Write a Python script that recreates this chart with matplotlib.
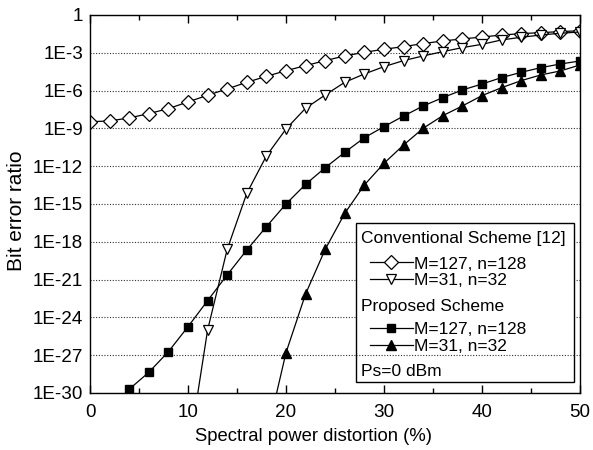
import matplotlib.pyplot as plt
import numpy as np
from matplotlib.lines import Line2D
from matplotlib.patches import Rectangle
from matplotlib.ticker import FixedLocator, MultipleLocator

plt.rcParams['font.family'] = ['Liberation Sans', 'DejaVu Sans']

# log10 of BER
x_all = list(range(0, 51, 2))
conv_127 = [-8.47, -8.41, -8.17, -7.83, -7.43, -6.90, -6.37, -5.87, -5.34, -4.87,
            -4.42, -4.02, -3.62, -3.25, -2.96, -2.72, -2.51, -2.27, -2.06, -1.90,
            -1.75, -1.59, -1.48, -1.40, -1.32, -1.25]

x_conv31 = list(range(10, 51, 2))
conv_31 = [-35.0, -25.0, -18.6, -14.15, -11.19, -9.05, -7.4, -6.35, -5.34, -4.68,
           -4.10, -3.62, -3.25, -2.91, -2.59, -2.33, -1.98, -1.77, -1.59, -1.45, -1.35]

x_prop127 = list(range(4, 51, 2))
prop_127 = [-29.7, -28.36, -26.72, -24.74, -22.67, -20.63, -18.65, -16.80, -15.0,
            -13.44, -12.12, -10.90, -9.74, -8.86, -8.02, -7.22, -6.56, -5.95,
            -5.48, -4.97, -4.55, -4.18, -3.89, -3.65]

x_prop31 = list(range(18, 51, 2))
prop_31 = [-33.5, -26.8, -22.14, -18.6, -15.74, -13.49, -11.77, -10.32, -8.99,
           -7.99, -7.22, -6.40, -5.77, -5.21, -4.76, -4.44, -3.97]

y_ticks = [0, -3, -6, -9, -12, -15, -18, -21, -24, -27, -30]
y_labels = ['1'] + ['1E%d' % t for t in y_ticks[1:]]

fig = plt.figure(figsize=(5.93, 4.5), dpi=100)
ax = fig.add_axes([0.1518, 0.1267, 0.8262, 0.84])

lw = 0.9
st_d = dict(marker='D', ms=6.8, mfc='white', mec='k', mew=0.9)
st_v = dict(marker='v', ms=6.8, mfc='white', mec='k', mew=0.9)
st_s = dict(marker='s', ms=5.8, mfc='k', mec='k')
st_t = dict(marker='^', ms=6.8, mfc='k', mec='k')

ax.plot(x_all, 10.0 ** np.array(conv_127), color='k', lw=lw, **st_d)
ax.plot(x_conv31, 10.0 ** np.array(conv_31), color='k', lw=lw, **st_v)
ax.plot(x_prop127, 10.0 ** np.array(prop_127), color='k', lw=lw, **st_s)
ax.plot(x_prop31, 10.0 ** np.array(prop_31), color='k', lw=lw, **st_t)

ax.set_yscale('log')
ax.set_ylim(1e-30, 1)
ax.set_xlim(0, 50)
ax.yaxis.set_major_locator(FixedLocator([10.0 ** t for t in y_ticks]))
ax.yaxis.set_minor_locator(FixedLocator([]))
ax.set_yticklabels(y_labels)
ax.xaxis.set_major_locator(MultipleLocator(10))
ax.xaxis.set_minor_locator(MultipleLocator(5))

tfs = 13.6
ax.tick_params(axis='y', which='both', length=0, labelsize=tfs, pad=5)
ax.tick_params(axis='x', which='major', direction='in', length=6, width=1,
               top=True, labelsize=tfs, pad=8)
ax.tick_params(axis='x', which='minor', direction='in', length=3.5, width=1, top=True)
ax.grid(axis='y', which='major', ls=(0, (1, 1.5)), lw=0.8, color='#333333')
for s in ax.spines.values():
    s.set_linewidth(1.0)

ax.set_xlabel('Spectral power distortion (%)', fontsize=13.3)
ax.xaxis.set_label_coords(0.456, -0.092)
ax.set_ylabel('Bit error ratio', fontsize=15)
ax.yaxis.set_label_coords(-0.131, 0.481)

# legend box
fs = 12.5
ax.add_patch(Rectangle((0.543, 0.029), 0.445, 0.4206, transform=ax.transAxes,
                       facecolor='white', edgecolor='k', lw=1.0, zorder=4.5))
ax.axhline(1e-27, xmin=0.543, xmax=0.988, ls=(0, (1, 1.5)), lw=0.8,
           color='#333333', zorder=4.6)

h_conv = [Line2D([], [], color='k', lw=lw, **st_d),
          Line2D([], [], color='k', lw=lw, **st_v)]
h_prop = [Line2D([], [], color='k', lw=lw, **st_s),
          Line2D([], [], color='k', lw=lw, **st_t)]
labels = ['M=127, n=128', 'M=31, n=32']

common = dict(loc='center left', frameon=False, fontsize=fs,
              borderpad=0, borderaxespad=0, labelspacing=0.1,
              handlelength=2.45, handletextpad=0.1)
leg1 = ax.legend(h_conv, labels, bbox_to_anchor=(0.5714, 0.319), **common)
leg1.set_zorder(5)
ax.add_artist(leg1)
leg2 = ax.legend(h_prop, labels, bbox_to_anchor=(0.5714, 0.1458), **common)
leg2.set_zorder(5)

tx = 0.553
ax.text(tx, 0.410, 'Conventional Scheme [12]', transform=ax.transAxes,
        fontsize=fs, va='center', ha='left', zorder=5)
ax.text(tx, 0.2275, 'Proposed Scheme', transform=ax.transAxes,
        fontsize=fs, va='center', ha='left', zorder=5)
ax.text(tx, 0.0563, 'Ps=0 dBm', transform=ax.transAxes, fontsize=fs,
        va='center', ha='left', zorder=5)

fig.savefig('out.png', dpi=100)
